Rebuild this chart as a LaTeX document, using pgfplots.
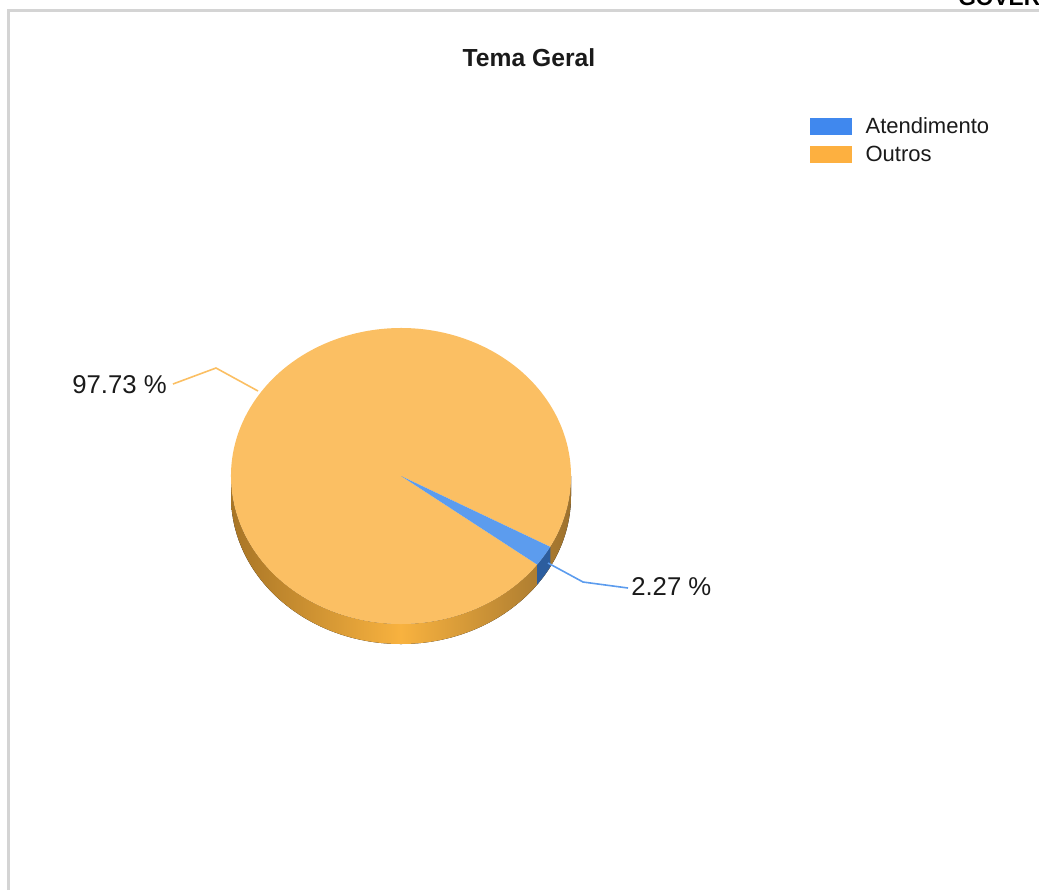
\documentclass[border=0pt]{standalone}
\usepackage{pgfplots}
\pgfplotsset{compat=1.18}
\usepackage{pgfplotstable}
\usepackage{fontspec}
\setmainfont{Liberation Sans}
\definecolor{topor}{HTML}{FBBF63}
\definecolor{legor}{HTML}{FDB040}
\definecolor{topbl}{HTML}{5C9CEE}
\definecolor{legbl}{HTML}{4088EE}
\definecolor{sidebl}{HTML}{2C5D9E}
\definecolor{sidedark}{HTML}{A87526}
\definecolor{sidelight}{HTML}{F8B23F}
\definecolor{frame}{HTML}{D4D4D4}
\definecolor{txt}{HTML}{1A1A1A}
\pgfplotstableread{
label value
Atendimento 2.27
Outros 97.73
}\piedata
\begin{document}
\begin{tikzpicture}
\pgfplotstablegetelem{0}{value}\of\piedata
\pgfmathsetmacro\va{\pgfplotsretval}
\pgfplotstablegetelem{1}{value}\of\piedata
\pgfmathsetmacro\vb{\pgfplotsretval}
\pgfmathsetmacro\sA{-28.6}
\pgfmathsetmacro\eA{\sA-3.6*\va}
\pgfmathsetmacro\eB{\sA+3.6*\vb}
\def\rx{127.5pt}\def\ry{111pt}
\begin{axis}[
  scale only axis, width=779.25pt, height=667.5pt,
  xmin=0, xmax=1039, ymin=0, ymax=890, y dir=reverse,
  hide axis, clip=false,
  legend style={at={(axis cs:810,115)}, anchor=north west, draw=none, fill=none,
    font=\fontsize{16.5}{19}\selectfont\color{txt}, row sep=3.6pt, inner sep=0pt,
    /tikz/every even column/.append style={column sep=0pt}},
  legend cell align=left,
  legend image code/.code={\fill[#1] (0pt,-6.4pt) rectangle (31.5pt,6.4pt);},
]
% frame
\draw[frame, line width=2.25pt] (axis cs:1039,10) -- (axis cs:8,10) -- (axis cs:8,890);
\node[anchor=south west, font=\bfseries\fontsize{17}{19}\selectfont, inner sep=0pt] at (axis cs:958,6) {GOVER};
% title
\node[font=\bfseries\fontsize{18.5}{22}\selectfont, text=txt] at (axis cs:529,58) {Tema Geral};
% legend
\addlegendimage{fill=legbl, draw=none}
\addlegendentry{\hspace{8pt}Atendimento}
\addlegendimage{fill=legor, draw=none}
\addlegendentry{\hspace{8pt}Outros}
% side
\fill[left color=sidedark, right color=sidedark!90!black!95, middle color=sidelight]
  (axis cs:401,476) ++(180:\rx\space and \ry) arc[start angle=180, end angle=360, x radius=\rx, y radius=\ry]
  -- ++(0,-15pt) arc[start angle=0, end angle=-180, x radius=\rx, y radius=\ry] -- cycle;
\fill[sidebl] (axis cs:401,476) ++(\eA:\rx\space and \ry) arc[start angle=\eA, end angle=\sA, x radius=\rx, y radius=\ry]
  -- ++(0,-15pt) arc[start angle=\sA, end angle=\eA, x radius=\rx, y radius=\ry] -- cycle;
% top
\fill[topor] (axis cs:401,476) -- ++(\sA:\rx\space and \ry) arc[start angle=\sA, end angle=\eB, x radius=\rx, y radius=\ry] -- cycle;
\fill[topbl] (axis cs:401,476) -- ++(\sA:\rx\space and \ry) arc[start angle=\sA, end angle=\eA, x radius=\rx, y radius=\ry] -- cycle;
% connectors
\addplot[topor, line width=1.2pt, forget plot] coordinates {(258,391) (216,368) (173,384)};
\addplot[topbl, line width=1.2pt, forget plot] coordinates {(548,563) (583,582) (628,588)};
\node[anchor=east, inner sep=0pt, text=txt, font=\fontsize{19.3}{22}\selectfont] at (axis cs:167,385) {97.73 \%};
\node[anchor=west, inner sep=0pt, text=txt, font=\fontsize{19.3}{22}\selectfont] at (axis cs:631,587) {2.27 \%};
\end{axis}
\pgfresetboundingbox
\path[use as bounding box] (current axis.south west) rectangle (current axis.north east);
\end{tikzpicture}
\end{document}
